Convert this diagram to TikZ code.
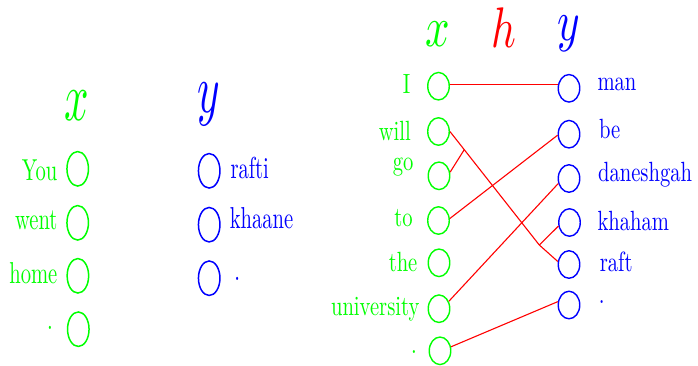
\documentclass[tikz,border=0pt]{standalone}
\usetikzlibrary{shapes.geometric,calc}
\definecolor{gr}{RGB}{0,255,0}
\begin{document}
\begin{tikzpicture}[x=1pt,y=-1pt,
  lcirc/.style={ellipse,draw,line width=1.5pt,minimum width=21.5pt,minimum height=34.5pt,inner sep=0pt},
  rcirc/.style={ellipse,draw,line width=1.4pt,minimum width=21.5pt,minimum height=27.5pt,inner sep=0pt},
  ltxt/.style={inner sep=0pt,font=\normalsize,xscale=2.06,yscale=3.03},
  rtxt/.style={inner sep=0pt,font=\normalsize,xscale=2.06,yscale=2.78},
  lmath/.style={inner sep=0pt,font=\normalsize,xscale=4.3,yscale=6.88},
  rmath/.style={inner sep=0pt,font=\normalsize,xscale=4.3,yscale=5.72},
  link/.style={red,line width=1.1pt},
]
\useasboundingbox (0,0) rectangle (698,365);

% ---------- left panel ----------
\node[lmath,gr,anchor=base] (xl) at (77.2,120) {$x$};
\node[lmath,blue,anchor=base] (yl) at (209,112) {$y$};

\node[lcirc,gr] (lx1) at (77.7,168.8) {};
\node[lcirc,gr] (lx2) at (77.7,222.8) {};
\node[lcirc,gr] (lx3) at (77.9,275.8) {};
\node[lcirc,gr] (lx4) at (78.3,329.2) {};
\node[lcirc,blue] (ly1) at (209.2,170.8) {};
\node[lcirc,blue] (ly2) at (209.2,224.7) {};
\node[lcirc,blue] (ly3) at (209.2,278.2) {};

\node[ltxt,gr,anchor=base east] (tyou) at (57.8,180) {You};
\node[ltxt,gr,anchor=base east] (twent) at (57.8,229.3) {went};
\node[ltxt,gr,anchor=base east] (thome) at (57.8,283.3) {home};
\node[ltxt,gr,anchor=center] (tdl) at (50,328.3) {.};
\node[ltxt,blue,anchor=base west] (trafti) at (230.1,178.3) {rafti};
\node[ltxt,blue,anchor=base west] (tkhaane) at (229.4,228.3) {khaane};
\node[ltxt,blue,anchor=center] (tdr) at (237.3,279) {.};

% ---------- right panel ----------
\node[rmath,gr,anchor=base] (xr) at (437.7,46.7) {$x$};
\node[rmath,red,anchor=base] (hr) at (503.7,47.3) {$h$};
\node[rmath,blue,anchor=base] (yr) at (569,40.5) {$y$};

\node[rcirc,gr] (I) at (438.5,86.2) {};
\node[rcirc,gr] (will) at (438.5,131.5) {};
\node[rcirc,gr] (go) at (439,175.8) {};
\node[rcirc,gr] (to) at (438.5,220.5) {};
\node[rcirc,gr] (the) at (439,262.8) {};
\node[rcirc,gr] (univ) at (439,308.7) {};
\node[rcirc,gr] (xdot) at (440,350.8) {};

\node[rcirc,blue] (man) at (569,88.3) {};
\node[rcirc,blue] (be) at (569,134.2) {};
\node[rcirc,blue] (dan) at (569,178.5) {};
\node[rcirc,blue] (kha) at (569.5,222.5) {};
\node[rcirc,blue] (raft) at (569,264.5) {};
\node[rcirc,blue] (ydot) at (569,305) {};

\node[rtxt,gr,anchor=base east] (tI) at (410.8,93.3) {I};
\node[rtxt,gr,anchor=base east] (twill) at (411.3,140.7) {will};
\node[rtxt,gr,anchor=base east] (tgo) at (413.8,170) {go};
\node[rtxt,gr,anchor=base east] (tto) at (413.2,226.7) {to};
\node[rtxt,gr,anchor=base east] (tthe) at (417.8,271) {the};
\node[rtxt,gr,anchor=base east] (tuniv) at (419.8,315) {university};
\node[rtxt,gr,anchor=center] (txd) at (414,351.7) {.};

\node[rtxt,blue,anchor=base west] (tman) at (597.1,90.7) {man};
\node[rtxt,blue,anchor=base west] (tbe) at (598.7,138.3) {be};
\node[rtxt,blue,anchor=base west] (tdan) at (597.7,181.7) {daneshgah};
\node[rtxt,blue,anchor=base west] (tkha) at (597.1,230.7) {khaham};
\node[rtxt,blue,anchor=base west] (traft) at (599.4,271.7) {raft};
\node[rtxt,blue,anchor=center] (tyd) at (601.7,301.7) {.};

% connectors
\coordinate (j2) at (539.3,245);
\coordinate (j1) at ($(will.east)!0.16!(j2)$);
\draw[link] (I.10) -- (I.10 -| man.west);
\draw[link] (will.east) -- (j2) -- (raft.165);
\draw[link] (go.18) -- (j1);
\draw[link] (kha.198) -- (j2);
\draw[link] (to.10) -- (be.185);
\draw[link] (univ.37) -- (dan.205);
\draw[link] (xdot.20) -- (ydot.163);
\end{tikzpicture}
\end{document}
